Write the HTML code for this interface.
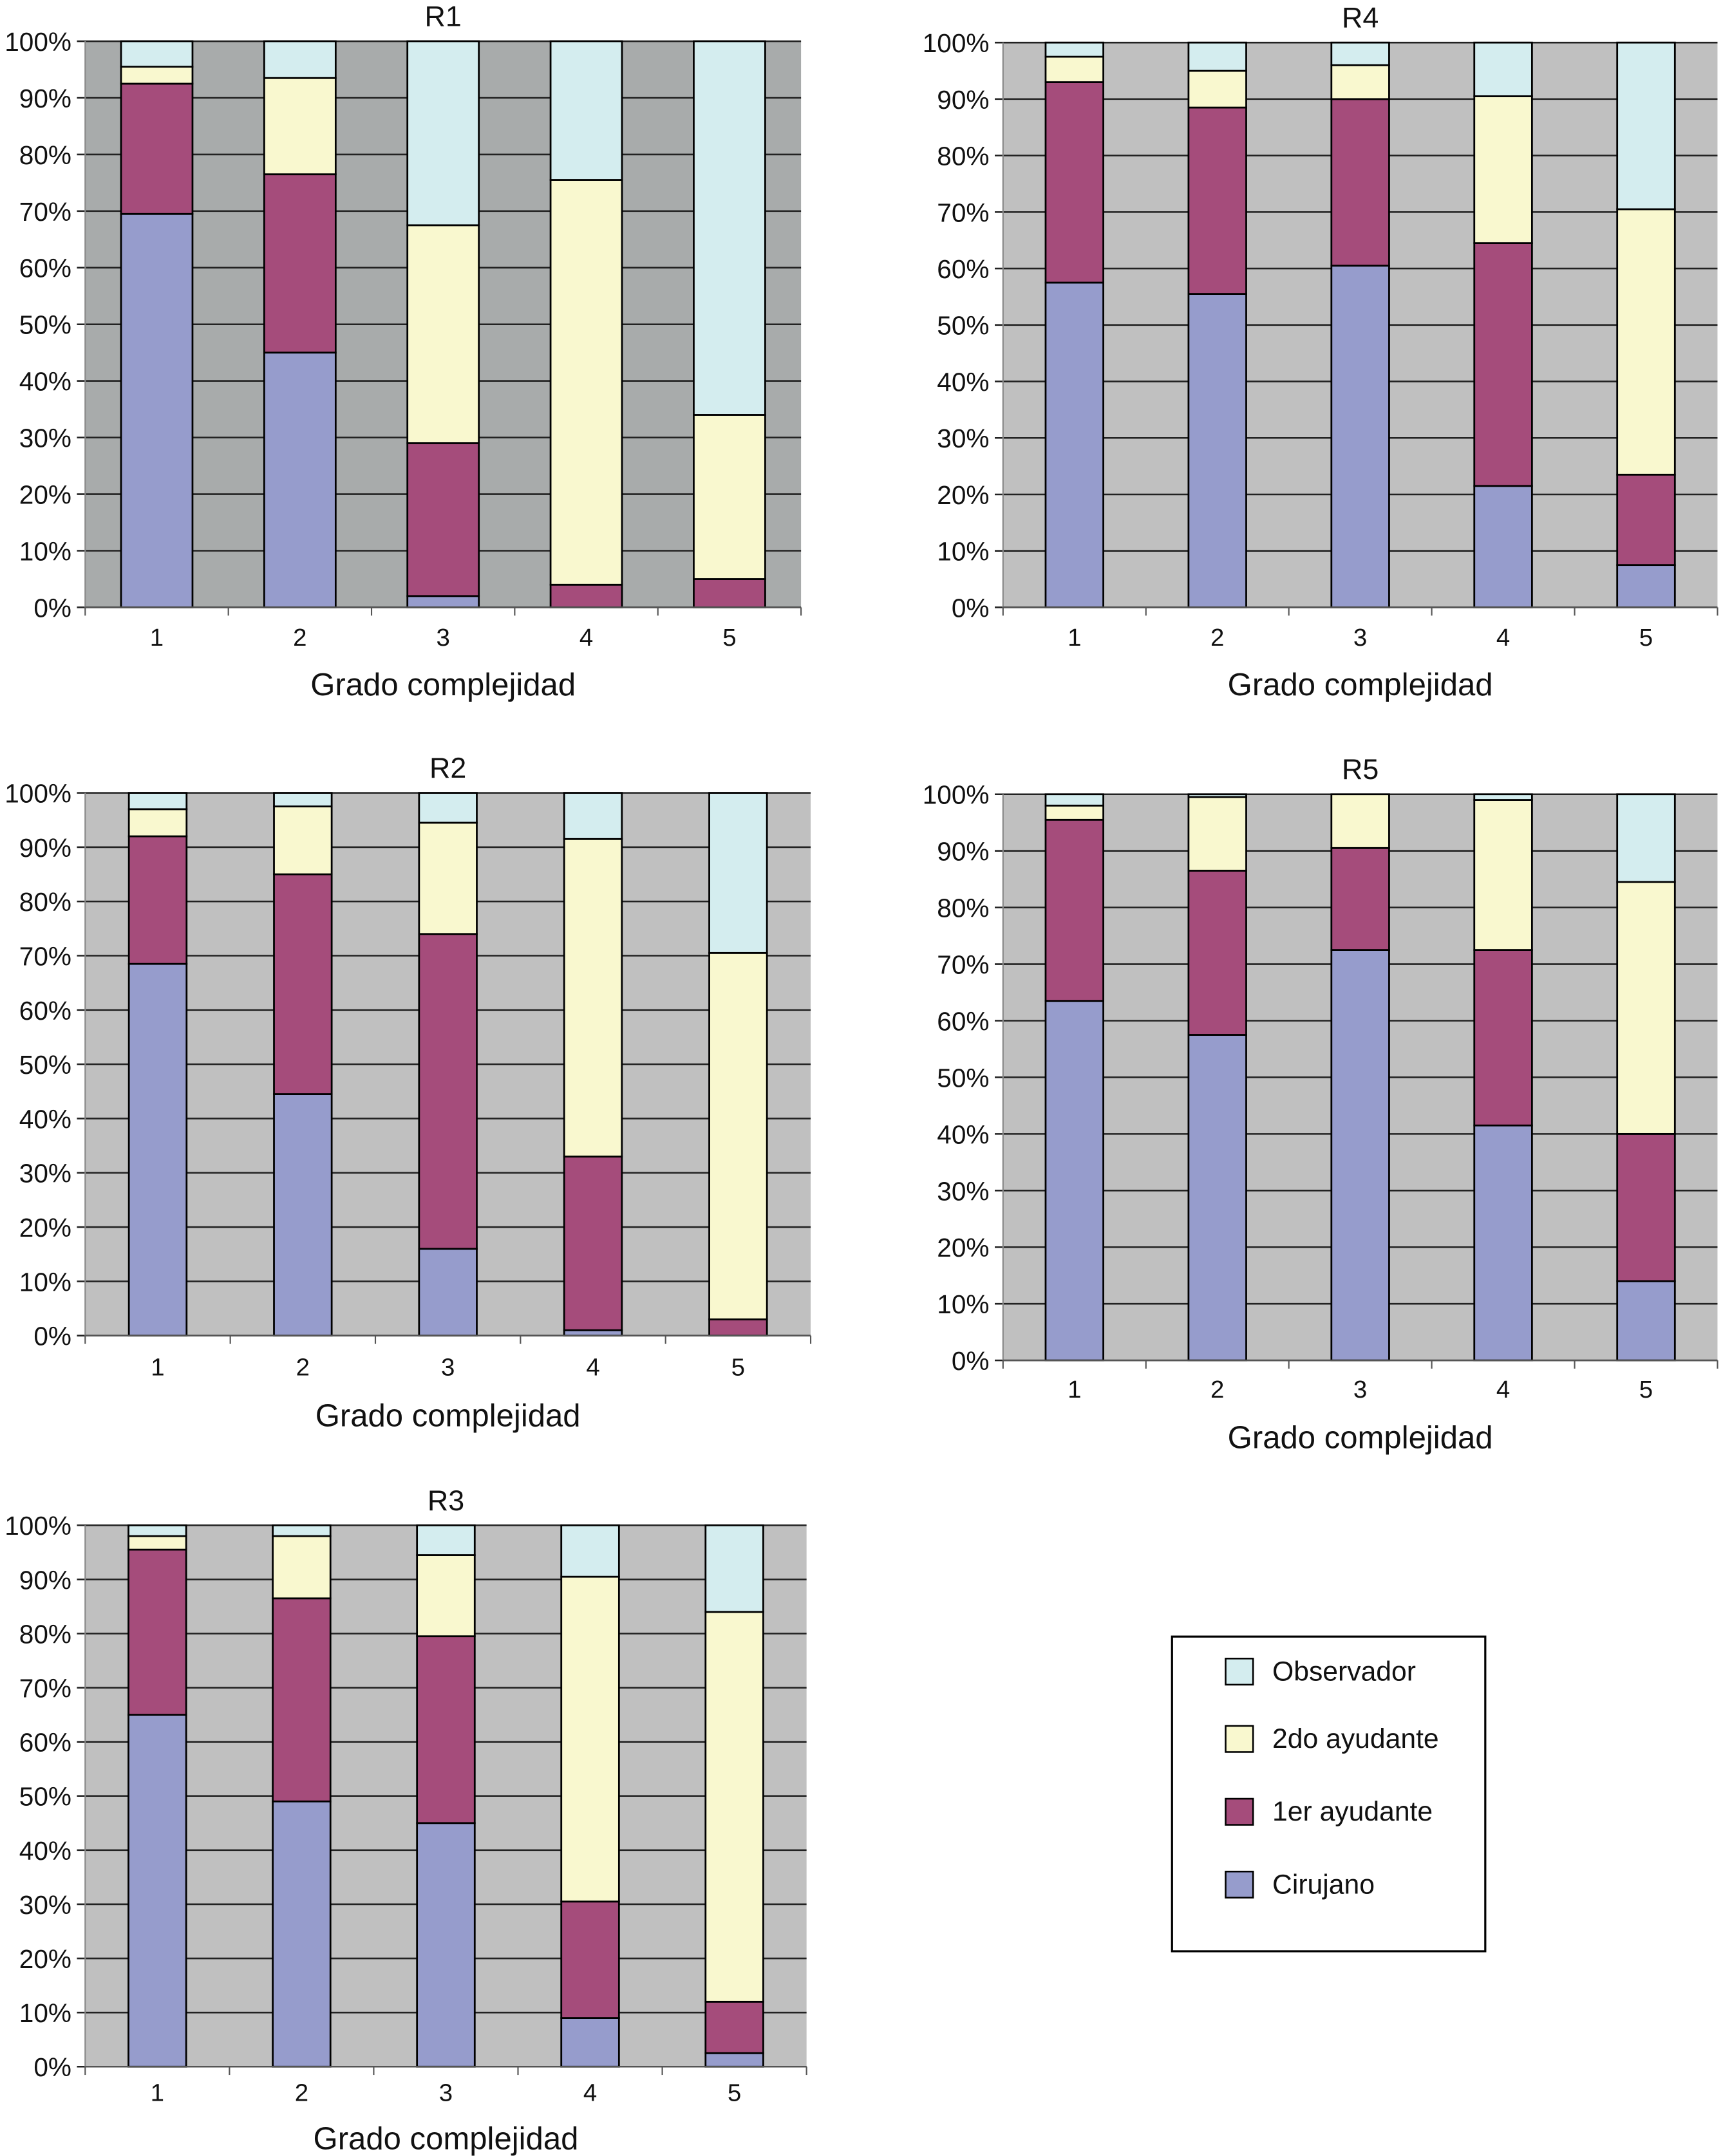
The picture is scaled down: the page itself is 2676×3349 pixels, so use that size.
<!DOCTYPE html>
<html><head><meta charset="utf-8"><style>
html,body{margin:0;padding:0;background:#fff}
svg{display:block}
text{font-family:"Liberation Sans",sans-serif;fill:#111}
</style></head><body>
<svg id="fig" width="2676" height="3349" viewBox="0 0 1254 1569" preserveAspectRatio="none" xmlns="http://www.w3.org/2000/svg"></svg>
<script>
const categories = ["1","2","3","4","5"];
const yTicks = [0,10,20,30,40,50,60,70,80,90,100];
const seriesNames = ["Cirujano","1er ayudante","2do ayudante","Observador"];
const r1Cirujano = [69.5,45,2,0,0];
const r1Primer = [23,31.5,27,4,5];
const r1Segundo = [3,17,38.5,71.5,29];
const r4Cirujano = [57.5,55.5,60.5,21.5,7.5];
const r4Primer = [35.5,33,29.5,43,16];
const r4Segundo = [4.5,6.5,6,26,47];
const r2Cirujano = [68.5,44.5,16,1,0];
const r2Primer = [23.5,40.5,58,32,3];
const r2Segundo = [5,12.5,20.5,58.5,67.5];
const r5Cirujano = [63.5,57.5,72.5,41.5,14];
const r5Primer = [32,29,18,31,26];
const r5Segundo = [2.5,13,9.5,26.5,44.5];
const r3Cirujano = [65,49,45,9,2.5];
const r3Primer = [30.5,37.5,34.5,21.5,9.5];
const r3Segundo = [2.5,11.5,15,60,72];

const colors = ["#969ccc","#a54c7b","#f9f8cf","#d4edef"];
const NS="http://www.w3.org/2000/svg";
const svg=document.getElementById('fig');
function mk(tag,attrs,parent){const e=document.createElementNS(NS,tag);for(const k in attrs)e.setAttribute(k,attrs[k]);(parent||svg).appendChild(e);return e;}

const panels=[
 {t:"R1",x0:62,x1:583,y0:30,y1:442,bg:"#a8abab",bw:52,c:r1Cirujano,p:r1Primer,s:r1Segundo,xl:463,xt:498},
 {t:"R4",x0:730,x1:1250,y0:31,y1:442,bg:"#c0c0c0",bw:42,c:r4Cirujano,p:r4Primer,s:r4Segundo,xl:463,xt:498},
 {t:"R2",x0:62,x1:590,y0:577,y1:972,bg:"#c0c0c0",bw:42,c:r2Cirujano,p:r2Primer,s:r2Segundo,xl:994,xt:1030},
 {t:"R5",x0:730,x1:1250,y0:578,y1:990,bg:"#c0c0c0",bw:42,c:r5Cirujano,p:r5Primer,s:r5Segundo,xl:1010,xt:1046},
 {t:"R3",x0:62,x1:587,y0:1110,y1:1504,bg:"#c0c0c0",bw:42,c:r3Cirujano,p:r3Primer,s:r3Segundo,xl:1522,xt:1556}
];

panels.forEach(P=>{
  const g=mk('g',{});
  
  
  const yS=v=>P.y1-(v/100)*(P.y1-P.y0);
  const step=(P.x1-P.x0)/categories.length;
  const xS=i=>P.x0+step*(i+0.5);
  const bg=mk('rect',{x:P.x0,y:P.y0,width:P.x1-P.x0,height:P.y1-P.y0,fill:P.bg},g);
  
  
  yTicks.forEach(v=>{
    const y=yS(v);
    mk('line',{x1:P.x0-6,x2:P.x1,y1:y,y2:y,stroke:"#222","stroke-width":1.2},g);
    const t=mk('text',{x:P.x0-10,y:y+7,"text-anchor":"end","font-size":19},g);
    t.textContent=v+"%";
    
    
  });
  mk('line',{x1:P.x0,x2:P.x0,y1:P.y0,y2:P.y1,stroke:"#888","stroke-width":1},g);
  categories.forEach((c,i)=>{
    const vals=[P.c[i],P.p[i],P.s[i],Math.max(0,100-P.c[i]-P.p[i]-P.s[i])];
    let acc=0;
    vals.forEach((v,k)=>{
      const r=mk('rect',{x:xS(i)-P.bw/2,y:yS(acc+v),width:P.bw,height:yS(acc)-yS(acc+v),fill:colors[k],stroke:"#000","stroke-width":1.3},g);
      
      
      acc+=v;
    });
    const t=mk('text',{x:xS(i),y:P.xl+7,"text-anchor":"middle","font-size":18},g);
    t.textContent=c;
    
    
  });
  mk('line',{x1:P.x0,x2:P.x1,y1:P.y1,y2:P.y1,stroke:"#555","stroke-width":1.2},g);
  for(let i=0;i<=categories.length;i++){
    const x=P.x0+step*i;
    mk('line',{x1:x,x2:x,y1:P.y1,y2:P.y1+6,stroke:"#555","stroke-width":1},g);
  }
  const tt=mk('text',{x:(P.x0+P.x1)/2,y:P.y0-11,"text-anchor":"middle","font-size":21},g);
  tt.textContent=P.t;
  
  
  const xt=mk('text',{x:(P.x0+P.x1)/2,y:P.xt+8,"text-anchor":"middle","font-size":23},g);
  xt.textContent="Grado complejidad";
  
  
});

const lg=mk('g',{});


mk('rect',{x:853,y:1191,width:228,height:229,fill:"#fff",stroke:"#000","stroke-width":1.5},lg);
const legY=[1216,1265,1318,1371];
[3,2,1,0].forEach((k,j)=>{
  const e=mk('g',{},lg);
  
  
  mk('rect',{x:892,y:legY[j]-9,width:20,height:19,fill:colors[k],stroke:"#000","stroke-width":1.2},e);
  const t=mk('text',{x:926,y:legY[j]+7,"font-size":20},e);
  t.textContent=seriesNames[k];
});
</script>
</body></html>
